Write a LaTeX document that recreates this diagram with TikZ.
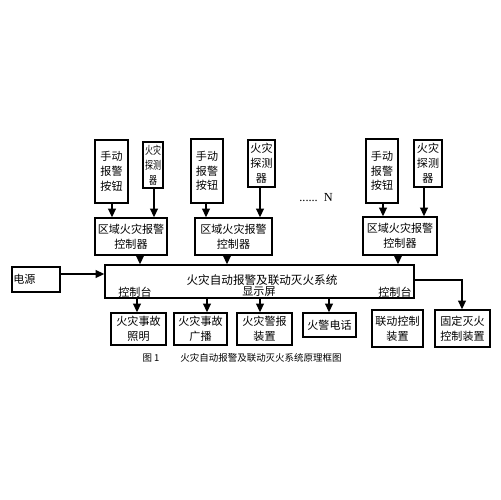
\documentclass[tikz,border=0pt]{standalone}
\usepackage{fontspec}
\setmainfont{Liberation Serif}
\newfontfamily\cjk{Noto Sans CJK SC}
\newfontfamily\cjkn[FakeStretch=0.72]{Noto Sans CJK SC}
\usetikzlibrary{arrows.meta}
\begin{document}
\begin{tikzpicture}[x=0.02cm,y=-0.02cm,
  box/.style={draw, line width=0.8pt, inner sep=0pt, align=center, font=\cjk\fontsize{6.3}{8.4}\selectfont},
  sz/.style 2 args={minimum width=#1*0.02cm, minimum height=#2*0.02cm},
  lbl/.style={inner sep=0pt, font=\cjk\fontsize{6.3}{8}\selectfont},
  arr/.style={line width=0.8pt, -{Triangle[length=5pt,width=4.5pt]}},
  ln/.style={line width=0.8pt}]
\useasboundingbox (0,0) rectangle (500,500);
\fill[white] (0,0) rectangle (500,500);
% top row
\node[box, sz={33}{63}] (h1) at (111.5,171.5) {手动\\报警\\按钮};
\node[box, sz={20}{46}, font=\cjkn\fontsize{6.3}{8.4}\selectfont] (d1) at (153,165) {火灾\\探测\\器};
\node[box, sz={32}{64}] (h2) at (207,171) {手动\\报警\\按钮};
\node[box, sz={27}{47}] (d2) at (261.5,163.5) {火灾\\探测\\器};
\node[box, sz={32}{64}] (h3) at (382,171) {手动\\报警\\按钮};
\node[box, sz={28}{47}] (d3) at (428,163.5) {火灾\\探测\\器};
\node[inner sep=0pt, font=\fontsize{7}{8}\selectfont, anchor=west] (dots) at (299,198) {......\ \ N};
% regional controllers
\node[box, sz={72}{37}] (r1) at (131,236.5) {区域火灾报警\\控制器};
\node[box, sz={77}{37}] (r2) at (233.5,236.5) {区域火灾报警\\控制器};
\node[box, sz={74}{38}] (r3) at (400,236) {区域火灾报警\\控制器};
% main
\node[box, sz={309}{33}] (main) at (259.5,281.5) {};
\node[lbl, font=\cjk\fontsize{6.6}{8}\selectfont] (title) at (262,280) {火灾自动报警及联动灭火系统};
\node[lbl] (ctl1) at (135,292) {控制台};
\node[lbl] (disp) at (259,292) {显示屏};
\node[lbl] (ctl2) at (395,292) {控制台};
% power
\node[box, sz={48}{25}] (power) at (36,279.5) {};
\node[lbl, anchor=west] (powt) at (13,279) {电源};
% bottom row
\node[box, sz={55}{32}] (b1) at (138.5,329) {火灾事故\\照明};
\node[box, sz={53}{32}] (b2) at (200.5,329) {火灾事故\\广播};
\node[box, sz={55}{32}] (b3) at (264.5,329) {火灾警报\\装置};
\node[box, sz={53}{24}] (b4) at (329.5,325) {火警电话};
\node[box, sz={51}{37}] (b5) at (397.5,328.5) {联动控制\\装置};
\node[box, sz={55}{37}] (b6) at (462.5,328.5) {固定灭火\\控制装置};
% caption
\node[lbl, font=\cjk\fontsize{5.4}{7}\selectfont] (cap1) at (151,358) {图 1};
\node[lbl, font=\cjk\fontsize{5.4}{7}\selectfont] (cap2) at (261,358) {火灾自动报警及联动灭火系统原理框图};
% coordinates
\coordinate (h1o) at (112,203);
\coordinate (d1o) at (154,188);
\coordinate (h2o) at (206,203);
\coordinate (d2o) at (260,187);
\coordinate (h3o) at (383,203);
\coordinate (d3o) at (424,187);
\coordinate (r1o) at (140,255);
\coordinate (r2o) at (227,255);
\coordinate (r3o) at (398,255);
\coordinate (m1) at (137,298);
\coordinate (m2) at (207,298);
\coordinate (m3) at (260,298);
\coordinate (m4) at (329,298);
\coordinate (pw) at (60,274);
\coordinate (mr) at (414,280);
\coordinate (bend) at (462,280);
% connectors
\draw[arr] (h1o) -- (h1o |- r1.north);
\draw[arr] (d1o) -- (d1o |- r1.north);
\draw[arr] (h2o) -- (h2o |- r2.north);
\draw[arr] (d2o) -- (d2o |- r2.north);
\draw[arr] (h3o) -- (h3o |- r3.north);
\draw[arr] (d3o) -- (d3o |- r3.north);
\draw[arr] (r1o) -- (r1o |- main.north);
\draw[arr] (r2o) -- (r2o |- main.north);
\draw[arr] (r3o) -- (r3o |- main.north);
\draw[arr] (pw) -- (pw -| main.west);
\draw[arr] (m1) -- (m1 |- b1.north);
\draw[arr] (m2) -- (m2 |- b2.north);
\draw[arr] (m3) -- (m3 |- b3.north);
\draw[arr] (m4) -- (m4 |- b4.north);
\draw[arr] (mr) -- (bend) -- (bend |- b6.north);
\end{tikzpicture}
\end{document}
